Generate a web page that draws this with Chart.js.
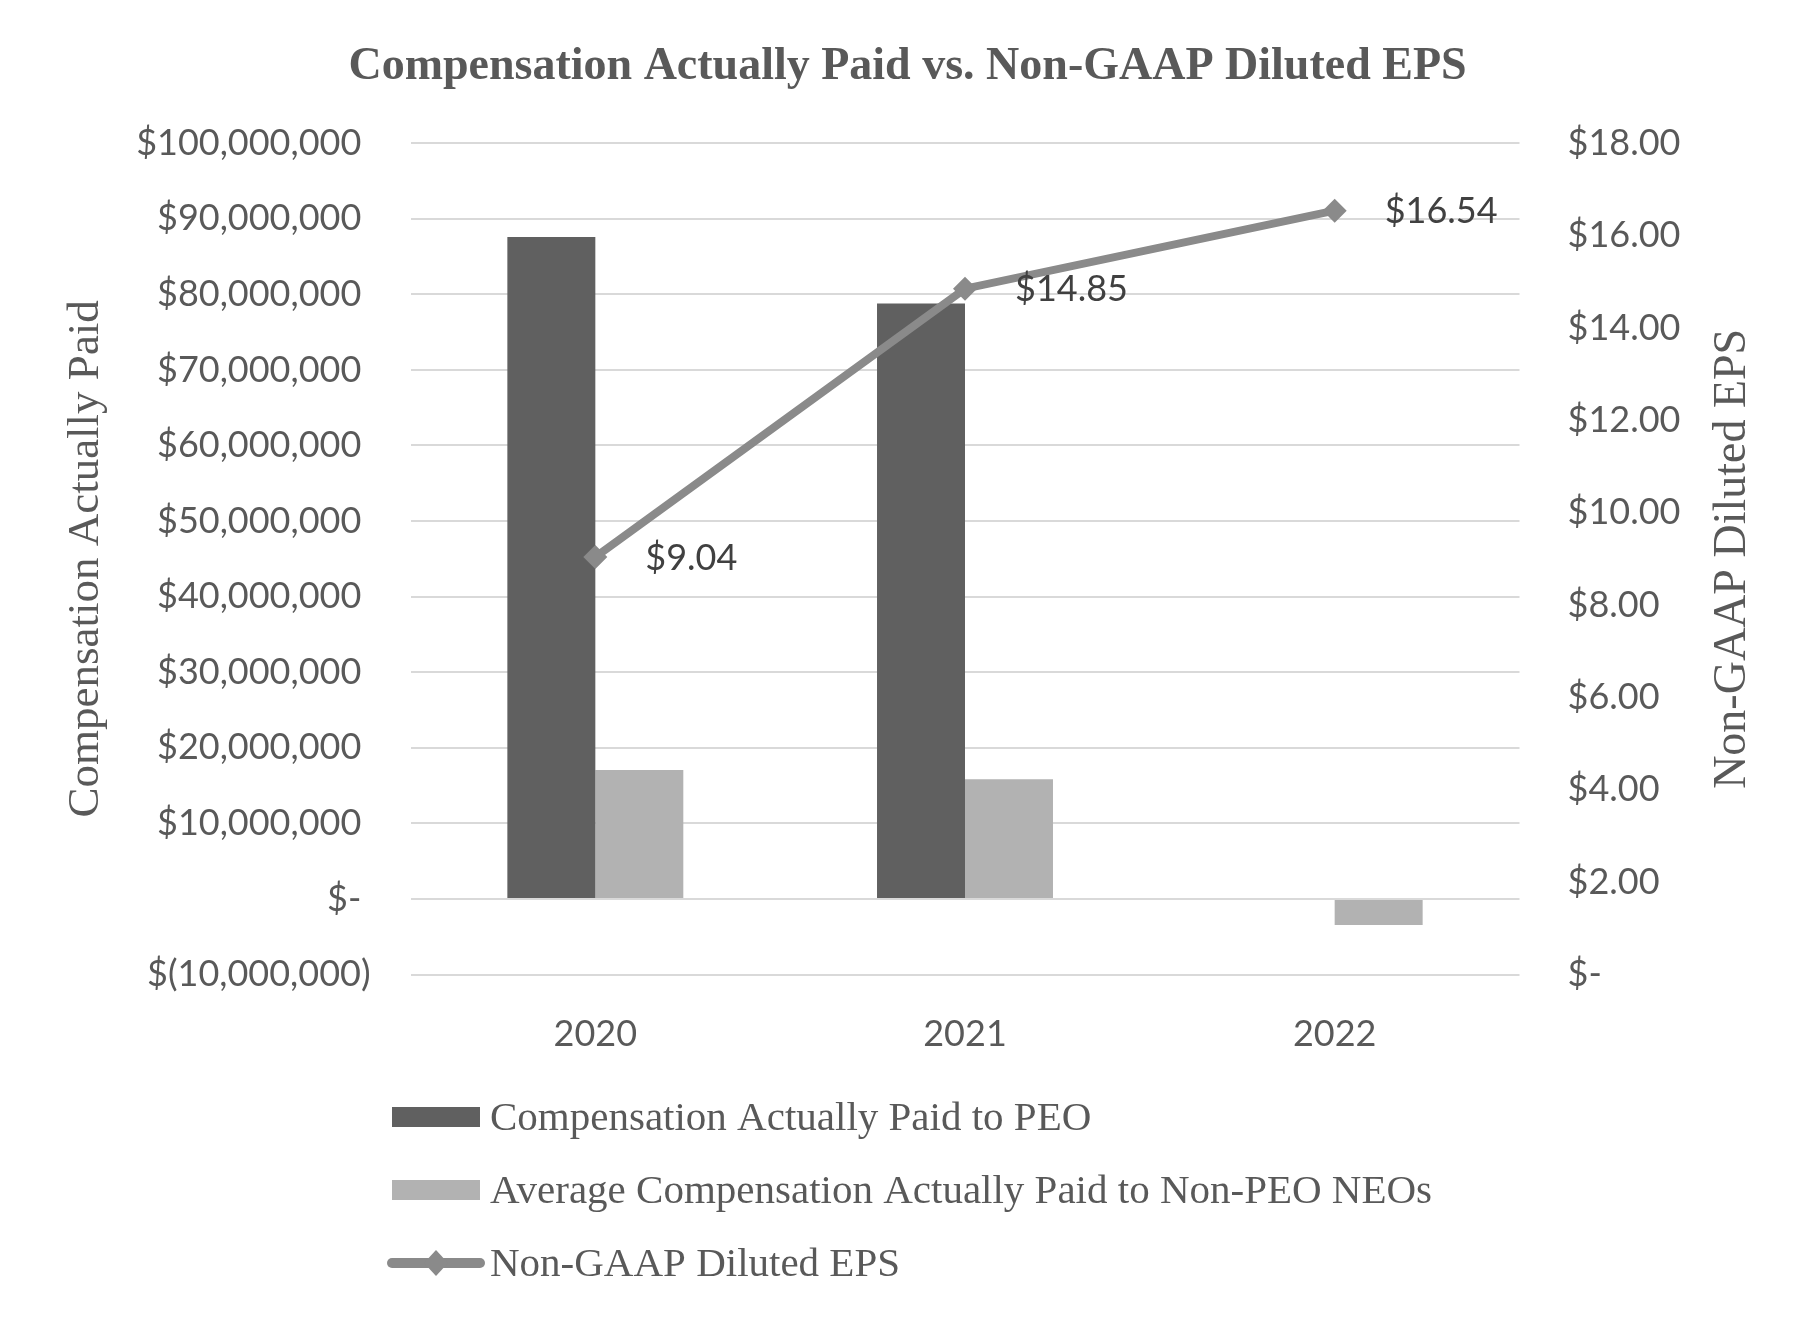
<!DOCTYPE html>
<html>
<head>
<meta charset="utf-8">
<script src="https://cdn.jsdelivr.net/npm/chart.js@4.4.0/dist/chart.umd.min.js"></script>
<style>
  html, body { margin: 0; padding: 0; background: #fff; }
  #wrap { width: 1815px; height: 1320px; }
</style>
</head>
<body>
<div id="wrap"><canvas id="chart"></canvas></div>
<script>
// data
const years = ['2020', '2021', '2022'];
const peoPaid = [87600000, 78800000, null];
const neoAvgPaid = [17050000, 15850000, -3440000];
const dilutedEps = [9.04, 14.85, 16.54];
const seriesNames = [
    'Compensation Actually Paid to PEO',
    'Average Compensation Actually Paid to Non-PEO NEOs',
    'Non-GAAP Diluted EPS'
];

const grey = '#595959';
const serif = '"Liberation Serif", "Times New Roman", serif';

Chart.defaults.font.family = 'Lato';
Chart.defaults.color = grey;

// accounting style: trailing space on positives, parentheses on negatives
function moneyTick(v) {
    if (v === 0) return '$- ';
    const s = Math.abs(v).toLocaleString('en-US');
    return v < 0 ? '$(' + s + ')' : '$' + s + ' ';
}

function epsTick(v) {
    return v === 0 ? '$-' : '$' + v.toFixed(2);
}

// value labels right of each EPS point
const pointLabels = {
    id: 'pointLabels',
    afterDatasetsDraw(chart) {
        const ctx = chart.ctx;
        const meta = chart.getDatasetMeta(2);
        ctx.save();
        ctx.font = '36px Lato';
        ctx.fillStyle = '#404040';
        ctx.textAlign = 'left';
        ctx.textBaseline = 'middle';
        meta.data.forEach((pt, i) => {
            ctx.fillText('$' + dilutedEps[i].toFixed(2), pt.x + 50, pt.y + 1);
        });
        ctx.restore();
    }
};

// right axis title reads bottom-to-top like the left one
const rightTitle = {
    id: 'rightTitle',
    afterDraw(chart) {
        const ctx = chart.ctx;
        const area = chart.chartArea;
        ctx.save();
        ctx.translate(1733, (area.top + area.bottom) / 2);
        ctx.rotate(-Math.PI / 2);
        ctx.font = '46px ' + serif;
        ctx.fillStyle = grey;
        ctx.textAlign = 'center';
        ctx.textBaseline = 'middle';
        ctx.fillText('Non-GAAP Diluted EPS', 0, 0);
        ctx.restore();
    }
};

// legend stacked one item per row under the axis
const stackedLegend = {
    id: 'stackedLegend',
    afterDraw(chart) {
        const ctx = chart.ctx;
        const rows = [1117, 1190, 1263];
        ctx.save();
        ctx.font = '41px ' + serif;
        ctx.textAlign = 'left';
        ctx.textBaseline = 'alphabetic';
        chart.data.datasets.forEach((ds, i) => {
            const y = rows[i];
            if (ds.type === 'line') {
                ctx.strokeStyle = ds.borderColor;
                ctx.lineWidth = 10;
                ctx.lineCap = 'round';
                ctx.beginPath();
                ctx.moveTo(392, y);
                ctx.lineTo(480, y);
                ctx.stroke();
                ctx.fillStyle = ds.borderColor;
                ctx.beginPath();
                ctx.moveTo(436 - 12, y);
                ctx.lineTo(436, y - 13);
                ctx.lineTo(436 + 12, y);
                ctx.lineTo(436, y + 13);
                ctx.closePath();
                ctx.fill();
            } else {
                ctx.fillStyle = ds.backgroundColor;
                ctx.fillRect(392, y - 10, 88, 20);
            }
            ctx.fillStyle = grey;
            ctx.fillText(ds.label, 490, y + 13);
        });
        ctx.restore();
    }
};

new Chart(document.getElementById('chart'), {
    type: 'bar',
    data: {
        labels: years,
        datasets: [{
            label: seriesNames[0],
            data: peoPaid,
            backgroundColor: '#606060',
            yAxisID: 'y',
            order: 1,
            categoryPercentage: 0.476,
            barPercentage: 1
        }, {
            label: seriesNames[1],
            data: neoAvgPaid,
            backgroundColor: '#b2b2b2',
            yAxisID: 'y',
            order: 1,
            categoryPercentage: 0.476,
            barPercentage: 1
        }, {
            type: 'line',
            label: seriesNames[2],
            data: dilutedEps,
            borderColor: '#8a8a8a',
            backgroundColor: '#8a8a8a',
            borderWidth: 8,
            tension: 0,
            pointStyle: 'rectRot',
            pointRadius: 12,
            pointBorderWidth: 0,
            pointBackgroundColor: '#8a8a8a',
            yAxisID: 'y1',
            order: 0
        }]
    },
    options: {
        responsive: true,
        maintainAspectRatio: false,
        animation: false,
        layout: { padding: 0 },
        plugins: {
            legend: { display: false },
            tooltip: { enabled: false },
            title: {
                display: true,
                text: 'Compensation Actually Paid vs. Non-GAAP Diluted EPS',
                color: grey,
                font: { family: serif, size: 46, weight: 'bold', lineHeight: 1.2 },
                padding: { top: 40, bottom: 48 }
            }
        },
        scales: {
            x: {
                grid: { display: false },
                border: { display: false },
                ticks: { color: grey, font: { size: 36 }, padding: 30 },
                afterFit: (s) => { s.height = 345.5; }
            },
            y: {
                position: 'left',
                min: -10000000,
                max: 100000000,
                grid: { color: '#d9d9d9', lineWidth: 2, drawTicks: false },
                border: { display: false },
                ticks: {
                    stepSize: 10000000,
                    color: grey,
                    font: { size: 36 },
                    padding: 40,
                    callback: moneyTick
                },
                title: {
                    display: true,
                    text: 'Compensation Actually Paid',
                    color: grey,
                    font: { family: serif, size: 45 },
                    padding: { top: 59, bottom: 0 }
                },
                afterFit: (s) => { s.width = 410.5; }
            },
            y1: {
                position: 'right',
                min: 0,
                max: 18,
                grid: { display: false, drawTicks: false },
                border: { display: false },
                ticks: {
                    stepSize: 2,
                    color: grey,
                    font: { size: 36 },
                    padding: 48,
                    callback: epsTick
                },
                afterFit: (s) => { s.width = 295.5; }
            }
        }
    },
    plugins: [pointLabels, rightTitle, stackedLegend]
});
</script>
</body>
</html>
